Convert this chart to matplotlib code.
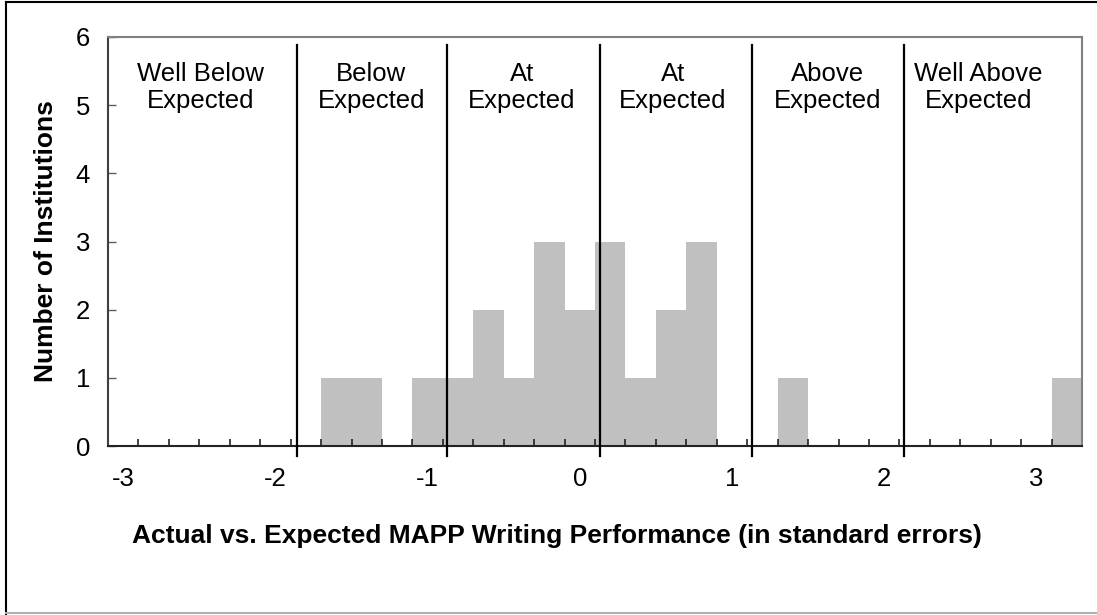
import matplotlib
matplotlib.use("Agg")
import matplotlib.pyplot as plt
from matplotlib.lines import Line2D
import numpy as np

plt.rcParams['font.family'] = ['Liberation Sans', 'DejaVu Sans']

# Histogram bins (left edges, width 0.2) and counts
bin_left = [-1.8, -1.6, -1.2, -1.0, -0.8, -0.6, -0.4, -0.2, 0.0, 0.2, 0.4, 0.6, 1.2, 3.0]
counts = [1, 1, 1, 1, 2, 1, 3, 2, 3, 1, 2, 3, 1, 1]
bin_width = 0.2

# Tick labels (placed at centre of the bin labelled by its upper bound)
tick_labels = ["-3", "-2", "-1", "0", "1", "2", "3"]
tick_pos = [-3.1, -2.1, -1.1, -0.1, 0.9, 1.9, 2.9]

# Region dividers and labels
divider_x = [-1.96, -0.97, 0.03, 1.03, 2.03]
region_labels = ["Well Below\nExpected", "Below\nExpected", "At\nExpected",
                 "At\nExpected", "Above\nExpected", "Well Above\nExpected"]
region_x = [-2.59, -1.47, -0.48, 0.51, 1.53, 2.52]

W, H = 1097, 615
fig = plt.figure(figsize=(W / 100, H / 100), dpi=100)
ax = fig.add_axes([108 / W, (H - 446) / H, 974 / W, 409 / H])

ax.bar(bin_left, counts, width=bin_width, align='edge', color='#C0C0C0',
       edgecolor='none', zorder=1)

ax.set_xlim(-3.2, 3.2)
ax.set_ylim(0, 6)

# x ticks: labels with no marks, minor inward ticks at bin edges
ax.set_xticks(tick_pos)
ax.set_xticklabels(tick_labels, fontsize=18.5)
ax.tick_params(axis='x', which='major', length=0, pad=15)
ax.set_xticks(np.arange(-3.2, 3.21, 0.2), minor=True)
ax.tick_params(axis='x', which='minor', direction='in', length=5, width=1.2,
               color='#222222')

ax.set_yticks(range(0, 7))
ax.tick_params(axis='y', which='major', direction='in', length=6, width=1,
               color='#606060', labelsize=18.5, pad=13)

for s in ['top', 'right']:
    ax.spines[s].set_color('#808080')
    ax.spines[s].set_linewidth(1.5)
ax.spines['left'].set_color('#404040')
ax.spines['left'].set_linewidth(1.5)
ax.spines['bottom'].set_color('#222222')
ax.spines['bottom'].set_linewidth(1.5)

for xv in divider_x:
    ax.plot([xv, xv], [-0.15, 5.88], color='black', lw=1.6, clip_on=False,
            zorder=3)

for xv, lab in zip(region_x, region_labels):
    ax.text(xv, 5.26, lab, ha='center', va='center', fontsize=18.5,
            linespacing=1.2)

ax.set_xlabel("Actual vs. Expected MAPP Writing Performance (in standard errors)",
              fontsize=19, fontweight='bold', va='center')
ax.xaxis.set_label_coords((557 - 108) / 974, (446 - 536) / 409)
ax.set_ylabel("Number of Institutions", fontsize=19, fontweight='bold',
              va='center')
ax.yaxis.set_label_coords((46 - 108) / 974, 0.5)

# figure border
fig.add_artist(Line2D([6 / W, 6 / W], [0, 1 - 2 / H], color='black', lw=1.5,
                      transform=fig.transFigure))
fig.add_artist(Line2D([6 / W, 1], [1 - 2 / H, 1 - 2 / H], color='black', lw=1.5,
                      transform=fig.transFigure))
fig.add_artist(Line2D([6 / W, 1], [2 / H, 2 / H], color='#B0B0B0', lw=1.5,
                      transform=fig.transFigure))

fig.savefig("out.png", dpi=100)
